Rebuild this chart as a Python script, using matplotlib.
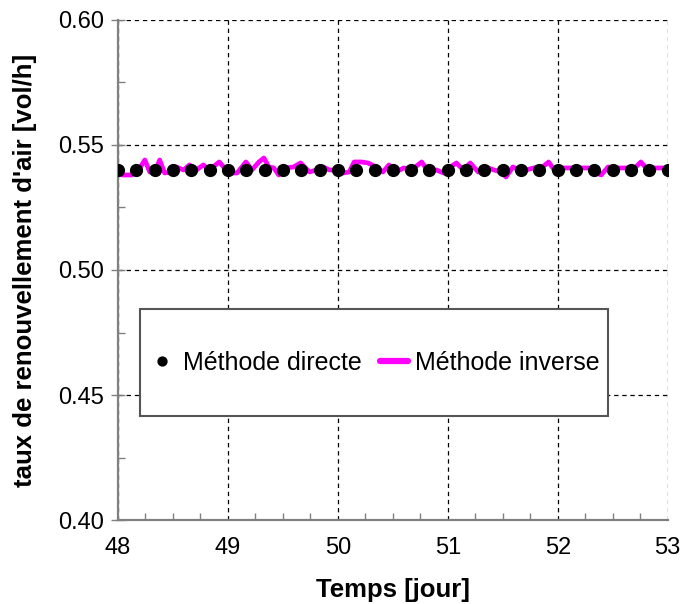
import matplotlib
matplotlib.use('Agg')
import matplotlib.pyplot as plt
import numpy as np
from matplotlib.ticker import MultipleLocator
from matplotlib.patches import Rectangle

plt.rcParams['font.family'] = ['Liberation Sans', 'DejaVu Sans']

# Méthode directe : one point every 4 hours
jours_directe = np.arange(48, 53 + 1e-9, 1 / 6)
taux_directe = [0.540] * len(jours_directe)

# Méthode inverse : values
jours_inverse = [48.000, 48.036, 48.126, 48.199, 48.244, 48.289, 48.334, 48.379, 48.424,
                 48.487, 48.532, 48.596, 48.650, 48.713, 48.776, 48.830, 48.921, 48.984,
                 49.038, 49.083, 49.164, 49.218, 49.282, 49.327, 49.372, 49.417, 49.462,
                 49.525, 49.597, 49.661, 49.742, 49.805, 49.868, 49.922, 49.986, 50.049,
                 50.103, 50.148, 50.211, 50.274, 50.347, 50.410, 50.464, 50.527, 50.599,
                 50.671, 50.762, 50.825, 50.897, 50.960, 51.023, 51.078, 51.141, 51.204,
                 51.276, 51.339, 51.421, 51.484, 51.529, 51.592, 51.646, 51.709, 51.782,
                 51.863, 51.917, 51.980, 52.043, 52.116, 52.206, 52.278, 52.350, 52.395,
                 52.458, 52.522, 52.639, 52.711, 52.756, 52.819, 52.883, 52.955, 53.000]
taux_inverse = [0.5388, 0.5380, 0.5380, 0.5408, 0.5440, 0.5392, 0.5388, 0.5440, 0.5388,
                0.5392, 0.5412, 0.5400, 0.5420, 0.5400, 0.5420, 0.5400, 0.5432, 0.5400,
                0.5388, 0.5388, 0.5432, 0.5400, 0.5432, 0.5448, 0.5412, 0.5408, 0.5380,
                0.5408, 0.5412, 0.5428, 0.5392, 0.5400, 0.5412, 0.5400, 0.5400, 0.5388,
                0.5392, 0.5432, 0.5432, 0.5428, 0.5412, 0.5392, 0.5420, 0.5392, 0.5408,
                0.5400, 0.5432, 0.5392, 0.5400, 0.5388, 0.5412, 0.5428, 0.5400, 0.5428,
                0.5392, 0.5412, 0.5400, 0.5392, 0.5372, 0.5412, 0.5400, 0.5400, 0.5408,
                0.5412, 0.5432, 0.5392, 0.5408, 0.5408, 0.5408, 0.5408, 0.5388, 0.5380,
                0.5412, 0.5408, 0.5408, 0.5412, 0.5432, 0.5400, 0.5408, 0.5408, 0.5392]

fig = plt.figure(figsize=(6.82, 6.04), dpi=100)
ax = fig.add_axes([0.173, 0.139, 0.806, 0.828])

ax.plot(jours_inverse, taux_inverse, color='#ff00ff', lw=3.4, zorder=3,
        label='Méthode inverse', solid_capstyle='round', solid_joinstyle='round')
ax.plot(jours_directe, taux_directe, 'o', color='black', ms=8.5, zorder=4,
        label='Méthode directe')

ax.set_xlim(48, 53)
ax.set_ylim(0.40, 0.60)
ax.xaxis.set_major_locator(MultipleLocator(1))
ax.xaxis.set_minor_locator(MultipleLocator(0.25))
ax.yaxis.set_major_locator(MultipleLocator(0.05))
ax.yaxis.set_minor_locator(MultipleLocator(0.025))
ax.yaxis.set_major_formatter(plt.FormatStrFormatter('%.2f'))

ax.grid(True, which='major', color='black', lw=0.9, linestyle=(0, (3.5, 3)))
ax.set_axisbelow(True)

for s in ['top', 'right']:
    ax.spines[s].set_visible(False)
for s in ['left', 'bottom']:
    ax.spines[s].set_color('#808080')
    ax.spines[s].set_linewidth(1.6)

ax.tick_params(axis='y', which='major', direction='inout', length=10, width=1,
               color='#808080', labelsize=17, pad=5)
ax.tick_params(axis='y', which='minor', direction='in', length=5, width=1, color='#808080')
ax.tick_params(axis='x', which='major', direction='in', length=0, labelsize=17, pad=12)
ax.tick_params(axis='x', which='minor', direction='in', length=5, width=1, color='#808080')

ax.set_xlabel('Temps [jour]', fontsize=18.5, fontweight='bold', labelpad=14)
ax.set_ylabel("taux de renouvellement d'air [vol/h]", fontsize=18.5, fontweight='bold',
              labelpad=15)

# legend box
ax.add_patch(Rectangle((0.040, 0.208), 0.851, 0.214, transform=ax.transAxes,
                       facecolor='white', edgecolor='#555555', lw=1.5, zorder=4.6))
handles, labels = ax.get_legend_handles_labels()
leg = ax.legend(handles[::-1], labels[::-1], ncol=2, fontsize=18, loc='center',
                bbox_to_anchor=(0.4655, 0.315), frameon=False, handlelength=1.12,
                handletextpad=0.28, columnspacing=0.72, markerscale=0.75)
leg.set_zorder(5)
leg.get_lines()[1].set_linewidth(4.5)

fig.savefig('out.png', dpi=100)
